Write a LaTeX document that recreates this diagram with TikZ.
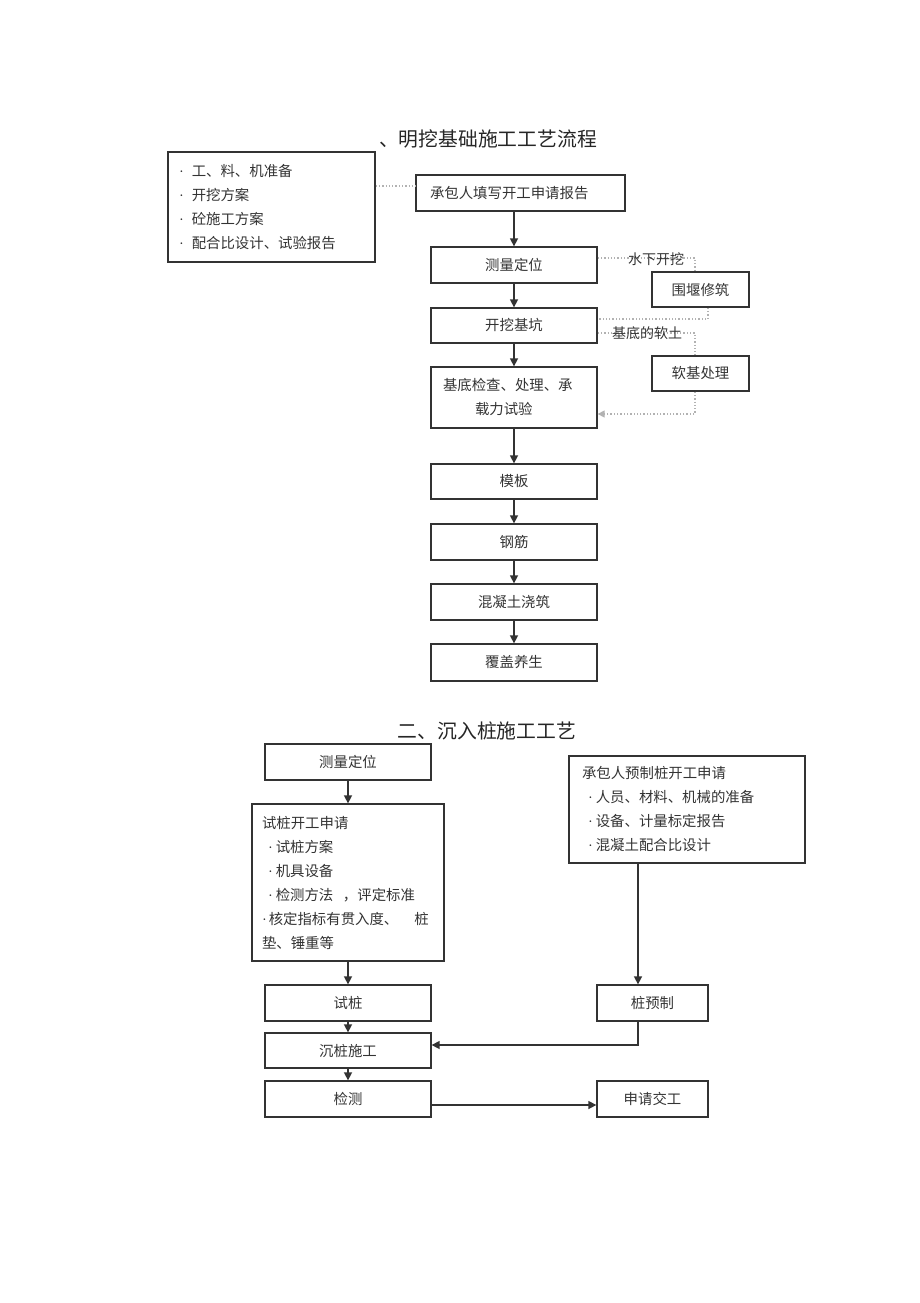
\documentclass[tikz,border=0pt]{standalone}
\usepackage{fontspec}
\setmainfont{Noto Sans CJK SC}
\newfontfamily\latinf{Liberation Serif}
\usetikzlibrary{arrows.meta}
\definecolor{ink}{gray}{0.2}
\newcommand\dotA{{\latinf ·}\hspace{8pt}}
\newcommand\dotB{\hspace{6pt}{\latinf ·}\hspace{3pt}}
\tikzset{
  box/.style={draw=ink, line width=1.3pt, inner sep=0pt, text=ink, font=\fontsize{14.4}{24}\selectfont},
  lbox/.style={box, align=left, inner xsep=11pt},
  arr/.style={draw=ink, line width=1.5pt, -{Triangle[length=8pt,width=8pt]}},
  dotl/.style={draw=gray!60, line width=1.3pt, dotted},
  lbl/.style={text=ink, font=\fontsize{14}{16}\selectfont, inner sep=0pt},
  ttl/.style={text=black!85, font=\fontsize{19.8}{22}\selectfont, inner sep=0pt}
}
\begin{document}
\begin{tikzpicture}[x=1pt,y=-1pt]
\useasboundingbox (0,0) rectangle (920,1303);
% ---------- part 1 ----------
\node[ttl] (t1) at (488,139) {、明挖基础施工工艺流程};
\node[lbox, minimum width=207pt, minimum height=110pt, text width=185pt] (prep) at (271.5,207) {\dotA 工、料、机准备\\\dotA 开挖方案\\\dotA 砼施工方案\\\dotA 配合比设计、试验报告};
\node[box, minimum width=209pt, minimum height=36pt, align=left, text width=181pt, inner xsep=14pt] (apply) at (520.5,193) {承包人填写开工申请报告};
\node[box, minimum width=166pt, minimum height=36pt] (survey) at (514,265) {测量定位};
\node[box, minimum width=97pt, minimum height=35pt] (weir) at (700.5,289.5) {围堰修筑};
\node[box, minimum width=166pt, minimum height=35pt] (dig) at (514,325.5) {开挖基坑};
\node[box, minimum width=97pt, minimum height=35pt] (soft) at (700.5,373.5) {软基处理};
\node[box, minimum width=166pt, minimum height=61pt, align=left, text width=142pt, inner xsep=12pt] (check) at (514,397.5) {基底检查、处理、承\\\hspace{32pt}载力试验};
\node[box, minimum width=166pt, minimum height=35pt] (form) at (514,481.5) {模板};
\node[box, minimum width=166pt, minimum height=36pt] (rebar) at (514,542) {钢筋};
\node[box, minimum width=166pt, minimum height=36pt] (pour) at (514,602) {混凝土浇筑};
\node[box, minimum width=166pt, minimum height=37pt] (cure) at (514,662.5) {覆盖养生};

\coordinate (c1) at (695,258);
\coordinate (c2) at (708,319);
\coordinate (c3) at (695,333);
\coordinate (c4) at (695,414);

\draw[dotl] (prep.east |- 0,186) -- (apply.west |- 0,186);
\draw[dotl] (survey.east |- c1) -- (c1) -- (c1 |- weir.north);
\draw[dotl] (weir.south -| c2) -- (c2) -- (dig.east |- c2);
\draw[dotl] (dig.east |- c3) -- (c3) -- (c3 |- soft.north);
\draw[dotl, -{Triangle[length=7pt,width=7pt]}] (soft.south -| c4) -- (c4) -- (check.east |- c4);
\node[lbl] (l1) at (656,259) {水下开挖};
\node[lbl] (l2) at (647,333) {基底的软土};

\draw[arr] (apply.south -| survey.north) -- (survey.north);
\draw[arr] (survey) -- (dig);
\draw[arr] (dig) -- (check);
\draw[arr] (check) -- (form);
\draw[arr] (form) -- (rebar);
\draw[arr] (rebar) -- (pour);
\draw[arr] (pour) -- (cure);

% ---------- part 2 ----------
\node[ttl] (t2) at (487,731) {二、沉入桩施工工艺};
\node[box, minimum width=166pt, minimum height=36pt] (s2) at (348,762) {测量定位};
\node[lbox, minimum width=192pt, minimum height=157pt, text width=172pt, inner xsep=10pt] (trial) at (348,882.5) {试桩开工申请\\\dotB 试桩方案\\\dotB 机具设备\\\dotB 检测方法\ \ ，评定标准\\{\latinf ·}\hspace{2pt}核定指标有贯入度、\hspace{16pt}桩\\垫、锤重等};
\node[lbox, minimum width=236pt, minimum height=107pt, text width=210pt, inner xsep=13pt] (pre) at (687,809.5) {承包人预制桩开工申请\\\dotB 人员、材料、机械的准备\\\dotB 设备、计量标定报告\\\dotB 混凝土配合比设计};
\node[box, minimum width=166pt, minimum height=36pt] (tp) at (348,1003) {试桩};
\node[box, minimum width=111pt, minimum height=36pt] (prefab) at (652.5,1003) {桩预制};
\node[box, minimum width=166pt, minimum height=35pt] (sink) at (348,1050.5) {沉桩施工};
\node[box, minimum width=166pt, minimum height=36pt] (test) at (348,1099) {检测};
\node[box, minimum width=111pt, minimum height=36pt] (hand) at (652.5,1099) {申请交工};

\coordinate (p1) at (638,1045);
\coordinate (p2) at (0,1105);
\draw[arr] (s2) -- (trial);
\draw[arr] (trial) -- (tp);
\draw[arr] (tp) -- (sink);
\draw[arr] (sink) -- (test);
\draw[arr] (pre.south -| p1) -- (prefab.north -| p1);
\draw[arr] (prefab.south -| p1) -- (p1) -- (sink.east |- p1);
\draw[arr] (test.east |- p2) -- (hand.west |- p2);
\end{tikzpicture}
\end{document}
